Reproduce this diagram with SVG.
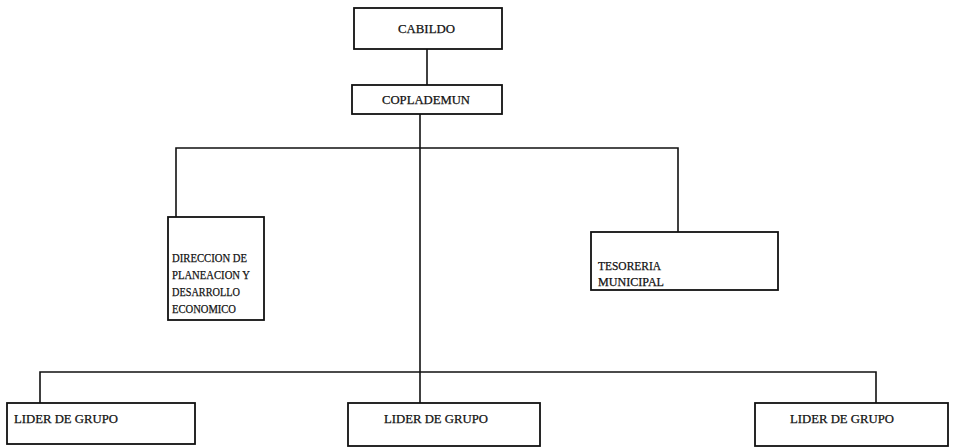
<svg xmlns="http://www.w3.org/2000/svg" width="953" height="448" viewBox="0 0 953 448" font-family="'Liberation Serif', 'Times New Roman', serif">
<style>
.box{fill:#fff;stroke:#111;stroke-width:1.8}
.ln{fill:none;stroke:#111;stroke-width:1.6}
text{font-family:'Liberation Serif','Times New Roman',serif;font-size:12.5px;fill:#111;stroke:#111;stroke-width:0.25}
</style>
<rect width="953" height="448" fill="#fff"/>
<g id="connectors">
<line class="ln" x1="427" y1="49" x2="427" y2="85"/>
<line class="ln" x1="420" y1="114" x2="420" y2="403"/>
<polyline class="ln" points="176,217 176,148 678,148 678,232"/>
<polyline class="ln" points="40,403 40,372 876,372 876,403"/>
</g>
<g id="cabildo">
<rect class="box" x="354" y="8" width="148" height="41"/>
<text x="398" y="33" textLength="57" lengthAdjust="spacingAndGlyphs">CABILDO</text>
</g>
<g id="coplademun">
<rect class="box" x="352" y="85" width="150" height="29"/>
<text x="382" y="104" textLength="88" lengthAdjust="spacingAndGlyphs">COPLADEMUN</text>
</g>
<g id="direccion">
<rect class="box" x="168" y="217" width="96" height="103"/>
<text x="172" y="262" textLength="75" lengthAdjust="spacingAndGlyphs">DIRECCION DE</text>
<text x="172" y="279" textLength="78" lengthAdjust="spacingAndGlyphs">PLANEACION Y</text>
<text x="172" y="296" textLength="68" lengthAdjust="spacingAndGlyphs">DESARROLLO</text>
<text x="172" y="313" textLength="64" lengthAdjust="spacingAndGlyphs">ECONOMICO</text>
</g>
<g id="tesoreria">
<rect class="box" x="591" y="232" width="187" height="58"/>
<text x="598" y="270" textLength="63" lengthAdjust="spacingAndGlyphs">TESORERIA</text>
<text x="598" y="286" textLength="66" lengthAdjust="spacingAndGlyphs">MUNICIPAL</text>
</g>
<g id="lider1">
<rect class="box" x="7" y="403" width="188" height="41"/>
<text x="14" y="423" textLength="104" lengthAdjust="spacingAndGlyphs">LIDER DE GRUPO</text>
</g>
<g id="lider2">
<rect class="box" x="348" y="403" width="192" height="43"/>
<text x="384" y="423" textLength="104" lengthAdjust="spacingAndGlyphs">LIDER DE GRUPO</text>
</g>
<g id="lider3">
<rect class="box" x="755" y="403" width="193" height="43"/>
<text x="790" y="423" textLength="104" lengthAdjust="spacingAndGlyphs">LIDER DE GRUPO</text>
</g>
</svg>
